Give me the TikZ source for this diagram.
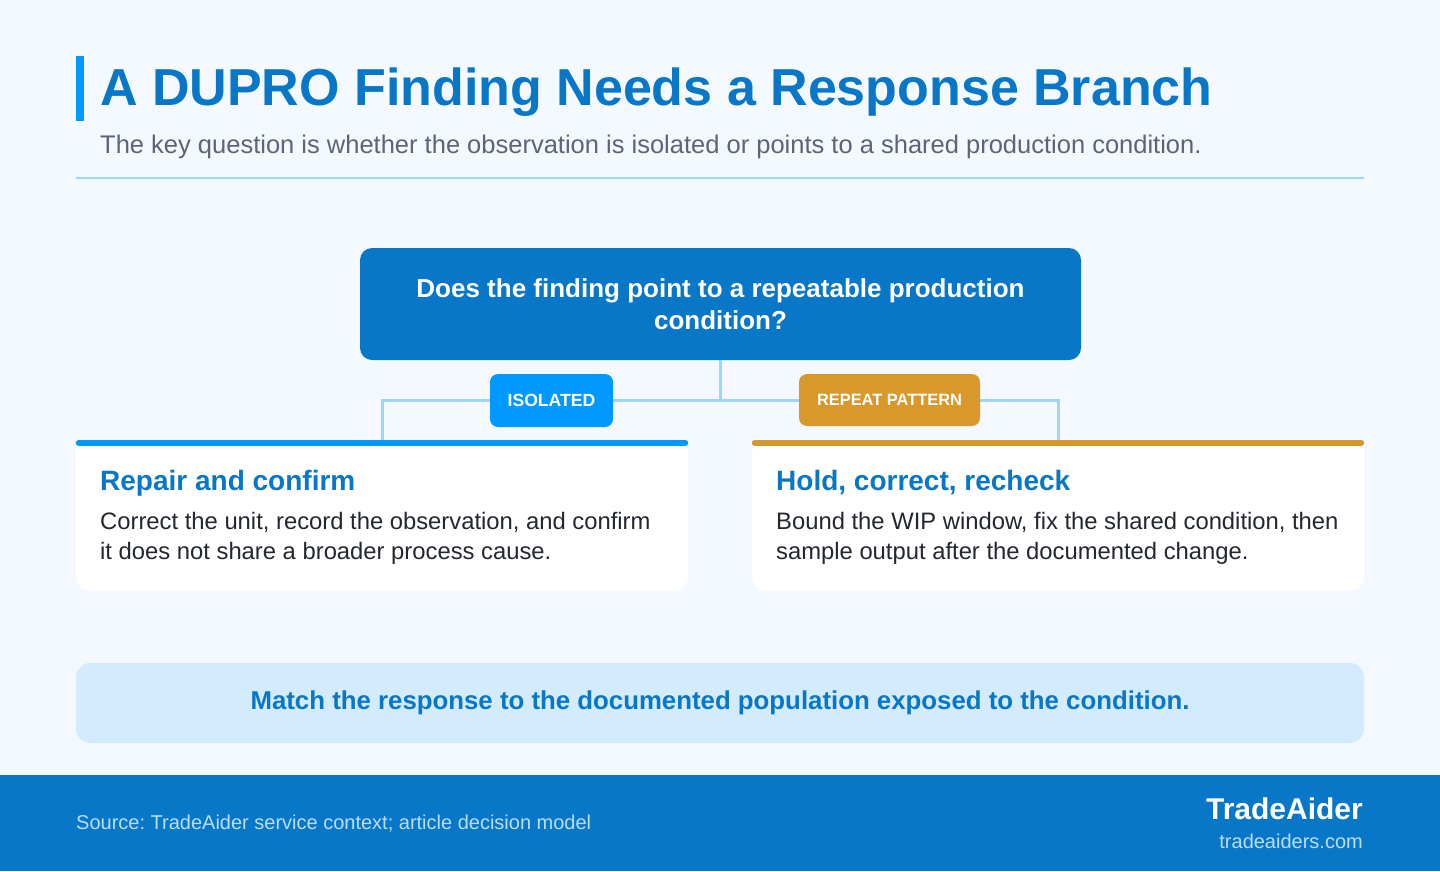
\documentclass[tikz,border=0pt]{standalone}
\usepackage{fontspec}
\setmainfont{Liberation Sans}
\frenchspacing
\definecolor{bg}{HTML}{F4F9FF}
\definecolor{brand}{HTML}{0877C8}
\definecolor{accent}{HTML}{0099FF}
\definecolor{gold}{HTML}{D9982C}
\definecolor{linec}{HTML}{9ED5FA}
\definecolor{subtle}{HTML}{5B6577}
\definecolor{bodyc}{HTML}{23272E}
\definecolor{banner}{HTML}{D3ECFD}
\definecolor{foottxt}{HTML}{B8DEF8}
\begin{document}
\begin{tikzpicture}[x=1pt,y=-1pt,
  txt/.style={inner sep=0pt, anchor=base west},
  conn/.style={draw=linec, line width=3pt},
  card/.style={fill=white, rounded corners=14pt, minimum width=612pt, minimum height=151pt, inner sep=0pt},
  tag/.style={rounded corners=8pt, text=white, inner sep=0pt},
  cardtitle/.style={txt, text=brand, font=\fontsize{28}{32}\selectfont\bfseries},
  cardbody/.style={txt, text=bodyc, font=\fontsize{23.8}{30}\selectfont},
  topbar/.style={line width=6pt, line cap=round}
]
\fill[bg] (0,0) rectangle (1440,871);
\useasboundingbox (0,0) rectangle (1440,871);

% header
\fill[accent] (76,56) rectangle (84,121);
\node[txt, text=brand, font=\fontsize{52}{60}\selectfont\bfseries] (title) at (100,105) {A DUPRO Finding Needs a Response Branch};
\node[txt, text=subtle, font=\fontsize{25.5}{30}\selectfont] (subtitle) at (100,153) {The key question is whether the observation is isolated or points to a shared production condition.};
\draw[linec, line width=2pt] (76,178) -- (1364,178);

% question
\node[fill=brand, rounded corners=12pt, minimum width=721pt, minimum height=112pt, inner sep=0pt,
      text=white, align=center, font=\fontsize{26}{32}\selectfont\bfseries] (q) at (720.5,304)
      {Does the finding point to a repeatable production\\condition?};

% cards
\node[card] (cardL) at (382,515.5) {};
\node[card] (cardR) at (1058,515.5) {};

% connectors
\draw[conn] (q.south) -- ++(0,40) coordinate (j);
\draw[conn] (cardL.north) |- (j) -| (cardR.north);

% tags
\node[tag, fill=accent, minimum width=123pt, minimum height=53pt, font=\fontsize{17.6}{20}\selectfont\bfseries] (iso) at (551.5,400.5) {ISOLATED};
\node[tag, fill=gold, minimum width=181pt, minimum height=52pt, font=\fontsize{16.4}{20}\selectfont\bfseries] (rep) at (889.5,400) {REPEAT PATTERN};

% top bars
\draw[topbar, accent] ([xshift=3pt,yshift=-3pt]cardL.north west) -- ([xshift=-3pt,yshift=-3pt]cardL.north east);
\draw[topbar, gold] ([xshift=3pt,yshift=-3pt]cardR.north west) -- ([xshift=-3pt,yshift=-3pt]cardR.north east);

% card texts
\node[cardtitle] (lt) at (100,490) {Repair and confirm};
\node[cardbody] (lb1) at (100,529) {Correct the unit, record the observation, and confirm};
\node[cardbody] (lb2) at (100,559) {it does not share a broader process cause.};
\node[cardtitle] (rt) at (776,490) {Hold, correct, recheck};
\node[cardbody] (rb1) at (776,529) {Bound the WIP window, fix the shared condition, then};
\node[cardbody] (rb2) at (776,559) {sample output after the documented change.};

% banner
\node[fill=banner, rounded corners=14pt, minimum width=1288pt, minimum height=80pt, inner sep=0pt,
      text=brand, font=\fontsize{25.8}{30}\selectfont\bfseries] (ban) at (720,703)
      {Match the response to the documented population exposed to the condition.};

% footer
\fill[brand] (0,775) rectangle (1440,871);
\node[txt, text=foottxt, font=\fontsize{20}{24}\selectfont] (src) at (76,829) {Source: TradeAider service context; article decision model};
\node[inner sep=0pt, anchor=base east, text=white, font=\fontsize{30}{34}\selectfont\bfseries] (brandname) at (1363,819) {TradeAider};
\node[inner sep=0pt, anchor=base east, text=foottxt, font=\fontsize{20}{24}\selectfont] (url) at (1363,848) {tradeaiders.com};
\end{tikzpicture}
\end{document}
